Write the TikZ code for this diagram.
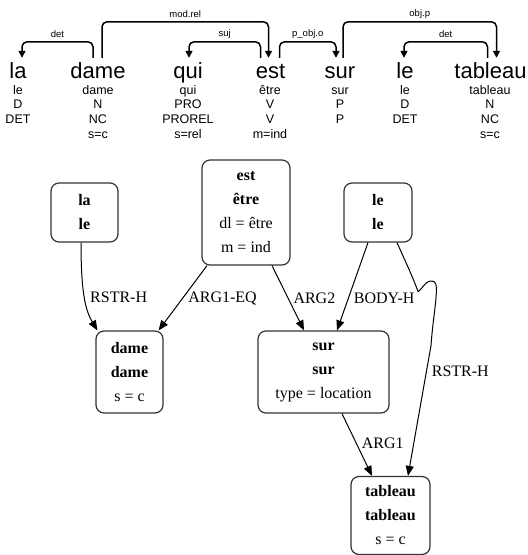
\documentclass[tikz,border=0pt]{standalone}
\usepackage{fontspec}
\setmainfont{Liberation Serif}
\newfontfamily\depfont{Liberation Sans}
\usetikzlibrary{arrows.meta}

\begin{document}
\begin{tikzpicture}[x=1pt,y=-1pt,line join=round]
	\def \arcrow{0}
	\def \wordrow{78}
	\def \inforow{94}
	\def \rowone{212.5}
	\def \rowtwo{372}
	\def \rowthree{515.5}
	\tikzstyle{w-node}=[inner xsep=0pt,inner ysep=4pt,text height=16pt,text depth=4pt,anchor=base,font=\depfont\fontsize{22}{26}\selectfont]
	\tikzstyle{i-node}=[inner sep=0pt,text width=70pt,align=center,anchor=base,font=\depfont\fontsize{12.5}{14.7}\selectfont]
	\tikzstyle{arc}=[line width=1.5pt,rounded corners=5pt,-{Triangle[length=7pt,width=7pt]}]
	\tikzstyle{arc-label}=[above,inner sep=3pt,font=\depfont\fontsize{9.5}{11}\selectfont]
	\tikzstyle{pred}=[draw=black!80,line width=1.2pt,rounded corners=8pt,align=center,inner sep=0pt,font=\fontsize{16}{24}\selectfont]
	\tikzstyle{rel}=[draw=black,line width=1pt,-{Triangle[length=10pt,width=8pt]}]
	\tikzstyle{rel-label}=[anchor=west,inner xsep=5pt,inner ysep=0pt,font=\fontsize{16}{18}\selectfont]

	\useasboundingbox (0,0) rectangle (528,555);

	% words
	\node[w-node] 	(w-la)		at (18,\wordrow)	{la};
	\node[w-node] 	(w-dame)	at (98,\wordrow)	{dame};
	\node[w-node] 	(w-qui)		at (188,\wordrow)	{qui};
	\node[w-node] 	(w-est)		at (270.5,\wordrow)	{est};
	\node[w-node] 	(w-sur)		at (340,\wordrow)	{sur};
	\node[w-node] 	(w-le)		at (405,\wordrow)	{le};
	\node[w-node] 	(w-tableau)	at (490.5,\wordrow)	{tableau};

	% lemma, pos, cat, features
	\node[i-node] 	(i-la)		at (18,\inforow)	{le\\D\\DET};
	\node[i-node] 	(i-dame)	at (98,\inforow)	{dame\\N\\NC\\s=c};
	\node[i-node] 	(i-qui)		at (188,\inforow)	{qui\\PRO\\PROREL\\s=rel};
	\node[i-node] 	(i-est)		at (270,\inforow)	{être\\V\\V\\m=ind};
	\node[i-node] 	(i-sur)		at (340,\inforow)	{sur\\P\\P};
	\node[i-node] 	(i-le)		at (405,\inforow)	{le\\D\\DET};
	\node[i-node] 	(i-tableau)	at (490,\inforow)	{tableau\\N\\NC\\s=c};

	% dependencies
	\draw[arc] ([xshift=-5pt]w-dame.north) -- ++(0,-16) -| node[arc-label,pos=0.25] {det} ([xshift=4pt]w-la.north);
	\draw[arc] ([xshift=4pt]w-dame.north) -- ++(0,-36) -| node[arc-label,pos=0.25] {mod.rel} ([xshift=-2pt]w-est.north);
	\draw[arc] ([xshift=-10pt]w-est.north) -- ++(0,-16) -| node[arc-label,pos=0.25] {suj} ([xshift=1pt]w-qui.north);
	\draw[arc] ([xshift=9pt]w-est.north) -- ++(0,-16) -| node[arc-label,pos=0.25] {p\_obj.o} ([xshift=-4pt]w-sur.north);
	\draw[arc] ([xshift=3pt]w-sur.north) -- ++(0,-36) -| node[arc-label,pos=0.25] {obj.p} ([xshift=6pt]w-tableau.north);
	\draw[arc] ([xshift=-3pt]w-tableau.north) -- ++(0,-16) -| node[arc-label,pos=0.25] {det} ([xshift=-1pt]w-le.north);

	% predicates
	\node[pred,minimum width=67pt,minimum height=59pt] 	(p-la)		at (84.5,\rowone)	{\textbf{la}\\\textbf{le}};
	\node[pred,minimum width=88pt,minimum height=105pt] 	(p-est)		at (246,\rowone)	{\textbf{est}\\\textbf{être}\\dl = être\\m = ind};
	\node[pred,minimum width=68pt,minimum height=59pt] 	(p-le)		at (378,\rowone)	{\textbf{le}\\\textbf{le}};
	\node[pred,minimum width=67pt,minimum height=82pt] 	(p-dame)	at (129.5,\rowtwo)	{\textbf{dame}\\\textbf{dame}\\s = c};
	\node[pred,minimum width=131pt,minimum height=82pt] 	(p-sur)		at (323.5,\rowtwo)	{\textbf{sur}\\\textbf{sur}\\type = location};
	\node[pred,minimum width=79pt,minimum height=78pt] 	(p-tableau)	at (390.5,\rowthree)	{\textbf{tableau}\\\textbf{tableau}\\s = c};

	% relations
	\draw[rel] ([xshift=-3.5pt]p-la.south) .. controls +(0,50) and +(-12,-20) .. ([xshift=2pt]p-dame.north west) node[rel-label,pos=0.5] {RSTR-H};
	\draw[rel] ([xshift=19pt]p-le.south) .. controls +(8,18) and +(-4,-12) .. ++(21,49) .. controls +(5,-3) and +(-8,-3) .. ++(16,-10) .. controls +(6,2) and +(2,-30) .. ++(-3,64) -- ([xshift=17.5pt]p-tableau.north) node[rel-label,pos=0.2] {RSTR-H};
	\path
		([xshift=-39pt]p-est.south)	edge[rel]	node[rel-label]	{ARG1-EQ}	([xshift=-5pt]p-dame.north east)
		([xshift=26pt]p-est.south)	edge[rel]	node[rel-label]	{ARG2}	([xshift=-19.5pt]p-sur.north)
		([xshift=-10pt]p-le.south)	edge[rel]	node[rel-label,pos=0.63]	{BODY-H}	([xshift=13.5pt]p-sur.north)
		([xshift=18.5pt]p-sur.south)	edge[rel]	node[rel-label,pos=0.48]	{ARG1}	([xshift=-18.5pt]p-tableau.north);
\end{tikzpicture}
\end{document}
